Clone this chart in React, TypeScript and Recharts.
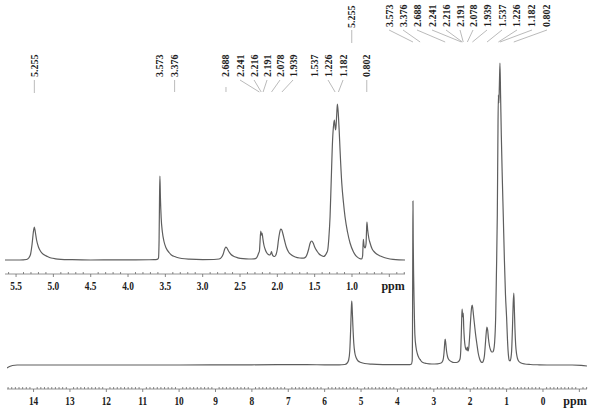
import React from 'react';
import { LineChart, Line, XAxis, YAxis, ReferenceLine, ReferenceDot } from 'recharts';

// ---------- DATA (ppm, intensity) ----------
const mainSpectrum: [number, number][] = [
  [14.73, -3], [14.66, -1.5], [14.58, -0.5], [14.45, 0], [12, 0], [10, 0], [8, 0.2], [7, 0.4], [6.5, 0.3], [6, 0.2],
  [5.6, 0.2], [5.45, 0.5], [5.38, 2], [5.34, 5], [5.31, 14], [5.285, 36], [5.265, 58], [5.255, 64], [5.245, 58],
  [5.225, 40], [5.2, 22], [5.17, 12], [5.13, 7], [5.08, 4], [5.0, 2.5], [4.9, 1.5], [4.7, 0.8], [4.4, 0.4], [4.0, 0.3],
  [3.7, 0.3], [3.62, 0.8], [3.595, 4], [3.585, 40], [3.578, 120], [3.573, 164], [3.566, 125], [3.555, 90], [3.54, 60],
  [3.52, 30], [3.49, 18], [3.45, 11], [3.42, 8], [3.39, 6], [3.376, 5.5], [3.35, 4], [3.3, 2.5], [3.2, 1.5], [3.05, 1],
  [2.9, 1.2], [2.8, 2], [2.75, 4.5], [2.72, 12], [2.7, 22], [2.688, 26], [2.675, 23], [2.65, 14], [2.62, 8], [2.58, 5],
  [2.52, 3.5], [2.45, 2.5], [2.38, 2.5], [2.32, 3.5], [2.28, 6], [2.26, 14], [2.245, 30], [2.232, 48], [2.222, 56],
  [2.212, 50], [2.2, 48], [2.191, 52], [2.178, 38], [2.16, 26], [2.14, 19], [2.12, 16], [2.1, 15], [2.085, 17],
  [2.078, 18], [2.07, 15], [2.055, 14], [2.04, 17], [2.02, 26], [2.0, 38], [1.98, 50], [1.96, 58], [1.945, 60],
  [1.93, 57], [1.91, 50], [1.88, 40], [1.85, 30], [1.82, 22], [1.78, 12], [1.74, 6], [1.7, 3], [1.67, 2.5], [1.64, 4],
  [1.61, 9], [1.585, 20], [1.56, 32], [1.54, 38], [1.52, 35], [1.5, 27], [1.47, 19], [1.44, 15], [1.41, 13], [1.38, 13],
  [1.355, 15], [1.33, 22], [1.3, 48], [1.28, 90], [1.255, 150], [1.24, 220], [1.226, 270], [1.212, 262], [1.198, 280],
  [1.182, 302], [1.165, 270], [1.145, 230], [1.12, 190], [1.09, 148], [1.06, 105], [1.03, 70], [1.0, 48], [0.975, 25],
  [0.95, 10], [0.925, 4.5], [0.905, 4], [0.88, 7], [0.86, 15], [0.84, 35], [0.82, 60], [0.802, 72], [0.788, 58],
  [0.77, 36], [0.75, 20], [0.725, 11], [0.7, 6.5], [0.66, 3.5], [0.6, 2], [0.5, 1], [0.35, 0.5], [0.1, 0.2], [-0.3, 0],
  [-0.8, 0], [-1.05, -0.3], [-1.21, -1],
];

const insetSpectrum: [number, number][] = [
  [5.648, 0], [5.45, 0], [5.36, 0.5], [5.33, 2], [5.305, 6], [5.285, 16], [5.268, 28], [5.255, 33], [5.242, 28],
  [5.225, 20], [5.2, 13], [5.17, 8.5], [5.13, 5.5], [5.08, 3.5], [5.03, 2], [4.97, 1.2], [4.9, 0.7], [4.75, 0.3],
  [4.5, 0], [3.9, 0.2], [3.65, 0.3], [3.61, 0.6], [3.592, 2], [3.584, 20], [3.578, 62], [3.573, 84], [3.566, 62],
  [3.556, 42], [3.54, 28], [3.52, 19], [3.49, 12], [3.45, 7.5], [3.41, 4.5], [3.376, 3.5], [3.34, 2.5], [3.28, 1.5],
  [3.18, 0.8], [3.0, 0.4], [2.85, 0.5], [2.78, 1], [2.75, 2.5], [2.725, 6], [2.705, 11], [2.69, 13], [2.675, 12],
  [2.65, 8.5], [2.62, 5.5], [2.58, 3.5], [2.53, 2.2], [2.46, 1.3], [2.38, 1], [2.31, 1.2], [2.28, 2], [2.265, 4],
  [2.25, 7], [2.24, 9], [2.232, 18], [2.222, 29], [2.213, 25], [2.205, 27], [2.195, 22], [2.18, 15], [2.16, 10],
  [2.14, 7], [2.12, 5.5], [2.1, 5], [2.085, 7], [2.078, 8.5], [2.07, 6], [2.055, 4], [2.035, 3.5], [2.015, 6],
  [2.0, 11], [1.985, 20], [1.97, 27], [1.955, 31], [1.94, 30], [1.925, 26], [1.905, 20], [1.88, 13], [1.85, 8],
  [1.81, 5], [1.76, 3], [1.7, 2], [1.65, 1.8], [1.62, 3], [1.6, 6], [1.58, 11], [1.56, 17], [1.54, 19], [1.52, 17],
  [1.5, 13], [1.47, 9], [1.44, 6], [1.41, 4.5], [1.384, 3.5], [1.36, 4.5], [1.34, 7], [1.325, 10], [1.31, 22],
  [1.294, 43], [1.278, 80], [1.26, 120], [1.245, 136], [1.236, 140], [1.225, 132], [1.218, 130], [1.205, 145],
  [1.196, 156], [1.185, 148], [1.172, 130], [1.16, 110], [1.137, 77], [1.115, 58], [1.093, 43], [1.06, 28],
  [1.026, 17], [0.98, 8], [0.936, 3.3], [0.9, 1.5], [0.87, 1], [0.858, 4], [0.848, 20.7], [0.838, 14], [0.825, 12],
  [0.812, 16], [0.805, 30], [0.8, 38], [0.79, 30], [0.775, 22], [0.758, 17], [0.73, 11], [0.7, 8], [0.67, 6],
  [0.62, 4], [0.57, 2.5], [0.52, 1.5], [0.45, 0.7], [0.37, 0.2], [0.29, 0],
];

const peakLabels = ['5.255', '3.573', '3.376', '2.688', '2.241', '2.216', '2.191', '2.078', '1.939', '1.537', '1.226', '1.182', '0.802'];
const peakPpm = [5.255, 3.573, 3.376, 2.688, 2.241, 2.216, 2.191, 2.078, 1.939, 1.537, 1.226, 1.182, 0.802];

const mainTickValues = [14, 13, 12, 11, 10, 9, 8, 7, 6, 5, 4, 3, 2, 1, 0];
const mainTickLabels = ['14', '13', '12', '11', '10', '9', '8', '7', '6', '5', '4', '3', '2', '1', '0'];
const insetTickValues = [5.5, 5.0, 4.5, 4.0, 3.5, 3.0, 2.5, 2.0, 1.5, 1.0];
const insetTickLabels = ['5.5', '5.0', '4.5', '4.0', '3.5', '3.0', '2.5', '2.0', '1.5', '1.0'];
const unitLabel = 'ppm';

// ---------- LAYOUT ----------
const MAIN_DOMAIN: [number, number] = [-1.21, 14.73];
const INSET_DOMAIN: [number, number] = [0.29, 5.648];
const mainLabelAt = [5.255, 4.23, 3.846, 3.462, 3.049, 2.665, 2.28, 1.923, 1.538, 1.126, 0.714, 0.302, -0.11];
const insetLabelAt = [5.255, 3.573, 3.376, 2.688, 2.5, 2.312, 2.138, 1.964, 1.79, 1.508, 1.321, 1.12, 0.802];
const insetLeader = [true, false, true, true, true, true, true, true, true, false, true, true, true];
const MAIN_UNIT_AT = -0.88;
const INSET_UNIT_AT = 0.45;

const FONT = '"Liberation Serif", "Times New Roman", serif';
const LINE_COLOR = '#5e5e5e';
const LEADER_COLOR = '#a8a8a8';

const mainData = mainSpectrum.map(([ppm, v]) => ({ ppm, v }));
const insetData = insetSpectrum.map(([ppm, v]) => ({ ppm, v }));

const mainTicks: number[] = [];
for (let i = 147; i >= -12; i--) mainTicks.push(Math.round(i) / 10);
mainTicks.push(MAIN_UNIT_AT);
const insetTicks: number[] = [];
for (let i = 56; i >= 3; i--) insetTicks.push(Math.round(i) / 10);
insetTicks.push(INSET_UNIT_AT);

const near = (a: number, b: number) => Math.abs(a - b) < 1e-6;

const makeTick = (values: number[], labels: string[], unitAt: number, majorStep: number) => (props: any) => {
  const { x, y, payload } = props;
  const v: number = payload.value;
  if (near(v, unitAt)) {
    return (
      <text x={x} y={y + 15.5} textAnchor="middle" fontFamily={FONT} fontWeight="bold" fontSize={12} fill="#1c1c1c">
        {unitLabel}
      </text>
    );
  }
  const isMajor = near(v / majorStep, Math.round(v / majorStep));
  const idx = values.findIndex((t) => near(t, v));
  return (
    <g>
      <line x1={x} x2={x} y1={y} y2={isMajor ? y + 3 : y - 2} stroke="#6a6a6a" strokeWidth={0.8} />
      {idx >= 0 && (
        <text
          transform={`translate(${x},${y + 15.5}) scale(0.78,1)`}
          textAnchor="middle"
          fontFamily={FONT}
          fontWeight="bold"
          fontSize={12}
          fill="#1c1c1c"
        >
          {labels[idx]}
        </text>
      )}
    </g>
  );
};

const peakText = (text: string) => (props: any) => {
  const vb = props.viewBox || {};
  const x = (vb.x ?? 0) + (vb.width ?? 0) / 2;
  const y = (vb.y ?? 0) + (vb.height ?? 0) / 2;
  return (
    <text
      transform={`translate(${x},${y}) rotate(-90)`}
      textAnchor="start"
      dominantBaseline="central"
      fontFamily={FONT}
      fontWeight="bold"
      fontSize={10}
      fill="#1c1c1c"
    >
      {text}
    </text>
  );
};

export default function App() {
  return (
    <div style={{ position: 'absolute', left: 0, top: 0, width: 596, height: 412, background: '#fff' }}>
      <div style={{ position: 'absolute', left: 0, top: 0 }}>
        <LineChart width={596} height={412} data={mainData} margin={{ top: 0, right: 9, left: 7, bottom: 0 }}>
          <XAxis
            dataKey="ppm"
            type="number"
            domain={MAIN_DOMAIN}
            reversed
            allowDataOverflow
            ticks={mainTicks}
            interval={0}
            tick={makeTick(mainTickValues, mainTickLabels, MAIN_UNIT_AT, 1)}
            tickLine={false}
            tickSize={0}
            tickMargin={0}
            axisLine={{ stroke: '#7a7a7a', strokeWidth: 0.8 }}
            height={23}
          />
          <YAxis hide type="number" domain={[-24, 365]} allowDataOverflow />
          <Line type="monotone" dataKey="v" stroke={LINE_COLOR} strokeWidth={1.2} dot={false} isAnimationActive={false} />
          {peakLabels.map((t, i) => (
            <ReferenceLine
              key={'ml' + i}
              segment={[{ x: mainLabelAt[i], y: 335 }, { x: peakPpm[i], y: i === 0 ? 322 : 323 }]}
              stroke={LEADER_COLOR}
              strokeWidth={0.8}
              ifOverflow="visible"
            />
          ))}
          {peakLabels.map((t, i) => (
            <ReferenceDot
              key={'md' + i}
              x={mainLabelAt[i]}
              y={i === 0 ? 337 : 338}
              r={0}
              fill="none"
              stroke="none"
              ifOverflow="visible"
              label={peakText(t)}
            />
          ))}
        </LineChart>
      </div>
      <div style={{ position: 'absolute', left: 0, top: 0 }}>
        <LineChart width={420} height={300} data={insetData} margin={{ top: 0, right: 15, left: 5, bottom: 0 }}>
          <XAxis
            dataKey="ppm"
            type="number"
            domain={INSET_DOMAIN}
            reversed
            allowDataOverflow
            ticks={insetTicks}
            interval={0}
            tick={makeTick(insetTickValues, insetTickLabels, INSET_UNIT_AT, 0.5)}
            tickLine={false}
            tickSize={0}
            tickMargin={0}
            axisLine={{ stroke: '#7a7a7a', strokeWidth: 0.8 }}
            height={26}
          />
          <YAxis hide type="number" domain={[-14, 260]} allowDataOverflow />
          <Line type="monotone" dataKey="v" stroke={LINE_COLOR} strokeWidth={1.2} dot={false} isAnimationActive={false} />
          {peakLabels.map((t, i) =>
            insetLeader[i] ? (
              <ReferenceLine
                key={'il' + i}
                segment={[{ x: insetLabelAt[i], y: i === 3 ? 173 : 180 }, { x: peakPpm[i], y: i === 0 ? 167 : 168 }]}
                stroke={LEADER_COLOR}
                strokeWidth={0.8}
                ifOverflow="visible"
              />
            ) : null
          )}
          {peakLabels.map((t, i) => (
            <ReferenceDot
              key={'id' + i}
              x={insetLabelAt[i]}
              y={183}
              r={0}
              fill="none"
              stroke="none"
              ifOverflow="visible"
              label={peakText(t)}
            />
          ))}
        </LineChart>
      </div>
    </div>
  );
}
